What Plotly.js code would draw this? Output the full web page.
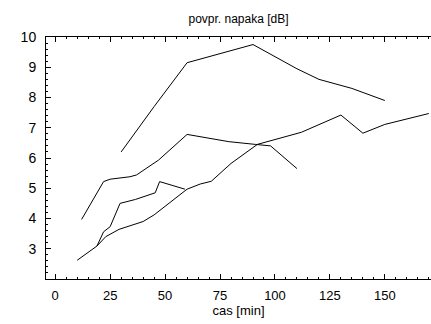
<!DOCTYPE html>
<html>
<head>
<meta charset="utf-8">
<script src="https://cdn.plot.ly/plotly-3.0.1.min.js"></script>
<style>html,body{margin:0;padding:0;background:#fff;}#chart{width:431px;height:324px;}</style>
</head>
<body>
<div id="chart"></div>
<script>
// Series (x: cas [min], y: povpr. napaka [dB])
const topX = [30, 45, 60, 90, 110, 120, 135, 150];
const topY = [6.2, 7.7, 9.15, 9.75, 8.95, 8.6, 8.3, 7.9];

const midX = [12, 22, 25, 34, 37, 47, 60, 79, 91, 98, 110];
const midY = [3.97, 5.22, 5.3, 5.38, 5.44, 5.93, 6.78, 6.54, 6.45, 6.4, 5.65];

const lowX = [10, 19, 23, 29, 40, 45, 60, 66, 71, 80, 92, 112, 130, 140, 150, 170];
const lowY = [2.62, 3.09, 3.4, 3.64, 3.9, 4.12, 4.97, 5.14, 5.23, 5.82, 6.45, 6.85, 7.42, 6.82, 7.11, 7.47];

const branchX = [19, 22, 25, 29.5, 36.5, 45.5, 47.5, 52, 57, 59];
const branchY = [3.09, 3.56, 3.73, 4.5, 4.63, 4.85, 5.22, 5.12, 5.0, 4.97];

const xTicks = [0, 25, 50, 75, 100, 125, 150];
const yTicks = [3, 4, 5, 6, 7, 8, 9, 10];

const line = {color: '#000', width: 1};
const data = [
  {x: topX, y: topY, mode: 'lines', line: line, hoverinfo: 'none'},
  {x: midX, y: midY, mode: 'lines', line: line, hoverinfo: 'none'},
  {x: lowX, y: lowY, mode: 'lines', line: line, hoverinfo: 'none'},
  {x: branchX, y: branchY, mode: 'lines', line: line, hoverinfo: 'none'}
];

const font = {family: 'Liberation Sans, Arial, sans-serif', color: '#000', size: 13};

const layout = {
  width: 431, height: 324,
  margin: {l: 46, r: 0, t: 37, b: 45},
  paper_bgcolor: '#fff', plot_bgcolor: '#fff',
  showlegend: false,
  font: font,
  title: {text: 'povpr. napaka [dB]', font: {family: font.family, size: 12, color: '#000'},
          x: 0.5, xref: 'paper', xanchor: 'center', y: 1, yref: 'paper', yanchor: 'bottom', pad: {b: 14}},
  xaxis: {
    range: [-4.2, 171], tickvals: xTicks, ticktext: xTicks.map(String),
    showgrid: false, zeroline: false, showline: true, linecolor: '#000', linewidth: 1,
    mirror: 'ticks', ticks: 'inside', ticklen: 5, tickcolor: '#000', tickwidth: 1,
    minor: {dtick: 5, tick0: 0, ticks: 'inside', ticklen: 2, tickcolor: '#000', showgrid: false},
    tickfont: {family: font.family, size: 13, color: '#000'},
    ticklabelstandoff: 4,
    title: {text: 'cas [min]', font: {family: font.family, size: 13, color: '#000'}, standoff: 4}
  },
  yaxis: {
    range: [2, 10], tickvals: yTicks, ticktext: yTicks.map(String),
    showgrid: false, zeroline: false, showline: true, linecolor: '#000', linewidth: 1,
    mirror: false, ticks: 'inside', ticklen: 5, tickcolor: '#000', tickwidth: 1,
    minor: {dtick: 0.2, tick0: 0, ticks: 'inside', ticklen: 2, tickcolor: '#000', showgrid: false},
    tickfont: {family: font.family, size: 14, color: '#000'},
    ticklabelstandoff: 6
  }
};

Plotly.newPlot('chart', data, layout, {staticPlot: true, displayModeBar: false});
</script>
</body>
</html>
